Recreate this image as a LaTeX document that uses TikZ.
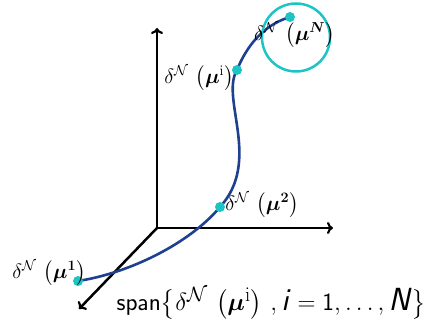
\documentclass[tikz,border=0pt]{standalone}
\usepackage{amsmath,bm}
\usetikzlibrary{arrows.meta}
\definecolor{curveblue}{HTML}{1F3F8F}
\definecolor{ptcyan}{HTML}{1CC4C4}
\newcommand{\sfi}{\textsf{\textit{i}}}
\newcommand{\sfN}{\textsf{\textit{N}}}
\tikzset{
  axis/.style={line width=2.5pt, -{To[length=6pt,width=12pt,line width=2.2pt]}},
  curv/.style={line width=2.6pt, curveblue},
  pt/.style={circle, fill=ptcyan, inner sep=0pt, minimum size=10pt},
  lab/.style={inner sep=0pt, font=\fontsize{22}{26}\selectfont},
}
\begin{document}
\begin{tikzpicture}[x=1pt,y=1pt]
\useasboundingbox (0,0) rectangle (439,323);
% axes
\coordinate (O) at (157,95);
\coordinate (U) at (157,295);
\coordinate (R) at (333,95);
\coordinate (D) at (79,14);
\draw[axis] (O) -- (U);
\draw[axis] (O) -- (R);
\draw[axis] (O) -- (D);
% curve points
\coordinate (P1) at (78,42);
\coordinate (P2) at (220,116);
\coordinate (Pi) at (237,253);
\coordinate (PN) at (290,306);
\draw[curv] (P1) .. controls (130,50) and (190,80) .. (P2)
  .. controls (262,162) and (220,225) .. (Pi)
  .. controls (250,285) and (270,300) .. (PN);
\node[pt] (n1) at (P1) {};
\node[pt] (n2) at (P2) {};
\node[pt] (ni) at (Pi) {};
\node[pt] (nN) at (PN) {};
% circle
\node[circle, draw=ptcyan, line width=2.5pt, minimum size=68pt, inner sep=0pt] (circ) at (296,285.5) {};
% labels
\node[lab] (l1) at (49,50) {$\delta^{\mathcal{N}}\,\left(\bm{\mu}^{\mathbf{1}}\right)$};
\node[lab] (li) at (199,245) {$\delta^{\mathcal{N}}\,\left(\bm{\mu}^{\mathrm{i}}\right)$};
\node[lab] (l2) at (262,118) {$\delta^{\mathcal{N}}\,\left(\bm{\mu}^{\mathbf{2}}\right)$};
\node[lab] (lN) at (294.5,288) {$\delta^{\mathcal{N}}\,\left(\bm{\mu}^{\bm{N}}\right)$};
\node[inner sep=0pt, font=\fontsize{32}{36}\selectfont] (span) at (271.5,20)
  {$\mathsf{span}\bigl\{\delta^{\mathcal{N}}\,\left(\bm{\mu}^{\mathrm{i}}\right)\,,\text{\sfi}=\mathsf{1},\ldots,\text{\sfN}\bigr\}$};
\end{tikzpicture}
\end{document}
